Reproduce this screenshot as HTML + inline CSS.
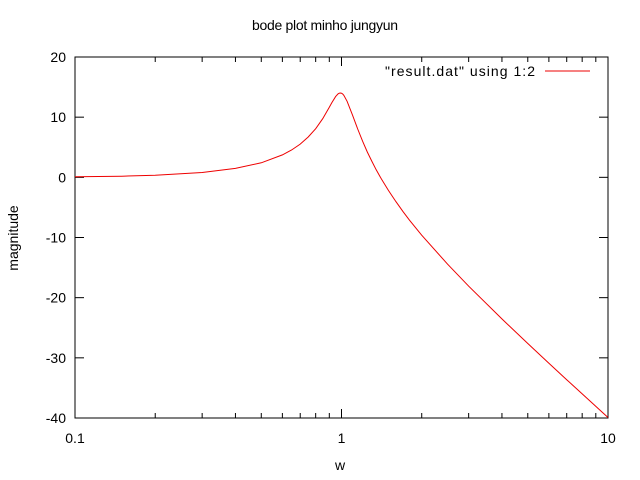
<!DOCTYPE html>
<html><head><meta charset="utf-8"><style>
body{margin:0;background:#fff;}
svg{display:block;font-family:"Liberation Sans",sans-serif;font-size:14px;}
</style></head><body>
<svg id="chart" width="640" height="480">
<rect x="0" y="0" width="640" height="480" fill="#fff"/>
<text x="325" y="30" text-anchor="middle" textLength="146">bode plot minho jungyun</text>
<text x="340" y="470" text-anchor="middle">w</text>
<text transform="translate(18,238) rotate(-90)" text-anchor="middle">magnitude</text>
<rect x="75" y="57" width="533" height="361" fill="none" stroke="#000" stroke-width="1"/>
<g id="ticks"></g>
<text x="385" y="76" textLength="150">"result.dat" using 1:2</text>
<line x1="545" y1="71" x2="590" y2="71" stroke="#e00" stroke-width="1"/>
<polyline id="series" fill="none" stroke="#e00" stroke-width="1"/>
</svg>
<script>
const wValues=[0.1,0.15,0.2,0.3,0.4,0.5,0.6,0.65,0.7,0.75,0.8,0.85,0.9,0.92,0.95,0.97,0.98,0.99,1.0,1.01,1.02,1.05,1.1,1.15,1.2,1.25,1.3,1.35,1.4,1.5,1.6,1.7,1.8,2,2.5,3,4,5,6,7,8,10];
const magValues=[0.09,0.19,0.35,0.8,1.48,2.42,3.73,4.55,5.53,6.70,8.09,9.75,11.64,12.40,13.41,13.86,13.98,14.02,13.98,13.85,13.64,12.63,10.34,8.04,6.0,4.21,2.65,1.25,0.0,-2.18,-4.04,-5.67,-7.12,-9.62,-14.44,-18.09,-23.53,-27.61,-30.89,-33.63,-35.99,-39.91];
const yTicks=[20,10,0,-10,-20,-30,-40];
const xTicks=[0.1,1,10];
const xTickLabels=["0.1","1","10"];
const L=75,R=608,T=57,B=418;
function xs(w){return L+(Math.log10(w)+1)/2*(R-L);}
function ys(v){return T+(20-v)/60*(B-T);}
const NS="http://www.w3.org/2000/svg";
const g=document.getElementById('ticks');
function line(x1,y1,x2,y2){const l=document.createElementNS(NS,'line');l.setAttribute('x1',x1);l.setAttribute('y1',y1);l.setAttribute('x2',x2);l.setAttribute('y2',y2);l.setAttribute('stroke','#000');g.appendChild(l);return l;}
function text(x,y,s,a){const t=document.createElementNS(NS,'text');t.setAttribute('x',x);t.setAttribute('y',y);t.setAttribute('text-anchor',a);t.textContent=s;g.appendChild(t);return t;}
yTicks.forEach(v=>{const y=ys(v);
const a=line(L,y,L+9,y);


const b=line(R-9,y,R,y);


const t=text(L-9,y+5,String(v),'end');


});
xTicks.forEach((w,i)=>{const x=xs(w);
const a=line(x,B,x,B-9);


const b=line(x,T,x,T+9);


const t=text(x,B+25,xTickLabels[i],'middle');


if(i<xTicks.length-1){for(let k=2;k<=9;k++){const mx=xs(w*k);
const m1=line(mx,B,mx,B-5);


const m2=line(mx,T,mx,T+5);


}}
});
document.getElementById('series').setAttribute('points',wValues.map((w,i)=>xs(w).toFixed(1)+','+ys(magValues[i]).toFixed(1)).join(' '));
</script>
</body></html>
